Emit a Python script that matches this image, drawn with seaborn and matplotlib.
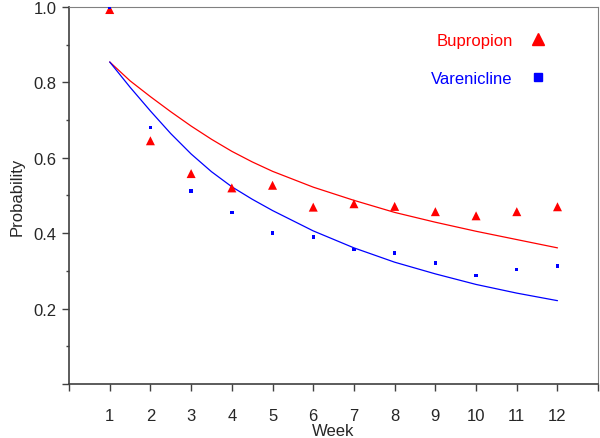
import matplotlib

matplotlib.use("Agg")
import matplotlib.pyplot as plt
import numpy as np
import pandas as pd
import seaborn as sns
from matplotlib.lines import Line2D
from matplotlib.ticker import MultipleLocator

# observed weekly probabilities
weeks = [1, 2, 3, 4, 5, 6, 7, 8, 9, 10, 11, 12]
bupropion_obs = [0.993, 0.645, 0.558, 0.520, 0.527, 0.469, 0.478, 0.471, 0.457, 0.446, 0.457, 0.470]
varenicline_obs = [1.000, 0.680, 0.512, 0.455, 0.400, 0.390, 0.357, 0.347, 0.321, 0.287, 0.303, 0.313]

# fitted curves
fit_weeks = [1, 1.5, 2, 2.5, 3, 3.5, 4, 4.5, 5, 6, 7, 8, 9, 10, 11, 12]
bupropion_fit = [0.854, 0.804, 0.762, 0.722, 0.684, 0.649, 0.617, 0.589, 0.564, 0.522,
                 0.487, 0.455, 0.429, 0.405, 0.383, 0.361]
varenicline_fit = [0.854, 0.787, 0.724, 0.664, 0.610, 0.563, 0.523, 0.490, 0.460, 0.406,
                   0.361, 0.323, 0.292, 0.264, 0.241, 0.221]

RED = "#ff0000"
BLUE = "#0000ff"

sns.set_theme(style="ticks")
plt.rcParams["font.family"] = ["Liberation Sans", "DejaVu Sans"]

obs = pd.DataFrame({"week": weeks, "bup": bupropion_obs, "var": varenicline_obs})
fit = pd.DataFrame({"week": fit_weeks, "bup": bupropion_fit, "var": varenicline_fit})

fig = plt.figure(figsize=(6.0, 4.39), dpi=100)
ax = fig.add_axes([0.115, 0.123, 0.882, 0.859])

sns.lineplot(data=fit, x="week", y="bup", color=RED, lw=0.9, ax=ax)
sns.lineplot(data=fit, x="week", y="var", color=BLUE, lw=0.9, ax=ax)
sns.scatterplot(data=obs, x="week", y="bup", color=RED, marker="^", s=42,
                edgecolor="none", ax=ax, zorder=3)
sns.scatterplot(data=obs, x="week", y="var", color=BLUE, marker="s", s=6,
                edgecolor="none", ax=ax, zorder=3)

ax.set_xlim(0, 13)
ax.set_ylim(0, 1.0)
ax.set_xticks(range(0, 14))
ax.set_xticklabels([""] + [str(w) for w in range(1, 13)] + [""])
ax.set_yticks([0, 0.2, 0.4, 0.6, 0.8, 1.0])
ax.set_yticklabels(["", "0.2", "0.4", "0.6", "0.8", "1.0"])
ax.yaxis.set_minor_locator(MultipleLocator(0.1))
ax.tick_params(axis="both", which="major", direction="out", length=5, width=1,
               color="#404040", labelsize=12, pad=4)
ax.tick_params(axis="y", which="minor", direction="out", length=2.5, width=1,
               color="#404040")
ax.tick_params(axis="x", pad=12)

for side in ["left", "bottom"]:
    ax.spines[side].set_color("#404040")
    ax.spines[side].set_linewidth(1.2)
for side in ["top", "right"]:
    ax.spines[side].set_visible(True)
    ax.spines[side].set_color("#808080")
    ax.spines[side].set_linewidth(0.8)

ax.set_xlabel("Week", fontsize=12, labelpad=0)
ax.set_ylabel("Probability", fontsize=12, labelpad=6)

handles = [
    Line2D([], [], ls="none", marker="^", ms=8, color=RED, label="Bupropion"),
    Line2D([], [], ls="none", marker="s", ms=6, color=BLUE, label="Varenicline"),
]
leg = ax.legend(handles=handles, loc="upper right", bbox_to_anchor=(0.93, 0.97),
                frameon=False, markerfirst=False, fontsize=12, labelspacing=1.35,
                handletextpad=1.0, handlelength=1.0)
for text, col in zip(leg.get_texts(), [RED, BLUE]):
    text.set_color(col)

fig.savefig("out.png", dpi=100)
